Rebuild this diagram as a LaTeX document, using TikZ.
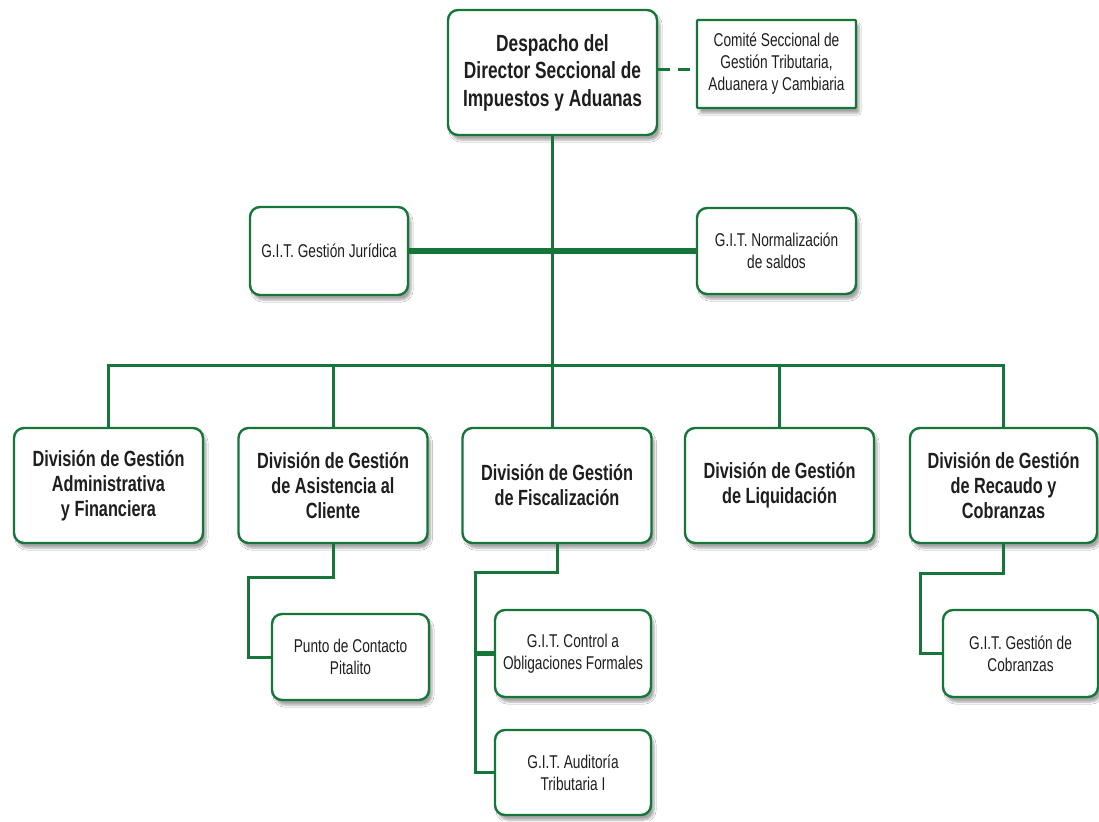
\documentclass[tikz,border=0pt]{standalone}
\usepackage{fontspec}
\setmainfont{Liberation Sans}[FakeStretch=0.74]
\usetikzlibrary{shadows.blur}
\definecolor{gr}{RGB}{22,118,58}
\definecolor{txt}{RGB}{30,30,30}
\tikzset{
  box/.style={draw=gr, line width=2.4pt, fill=white, rounded corners=10pt, align=center, text=txt,
    inner sep=2pt, blur shadow={shadow xshift=3pt, shadow yshift=-5pt, shadow blur steps=6, shadow opacity=35}},
  bigbox/.style={box, font=\fontsize{23.4}{27.5}\selectfont\bfseries},
  divbox/.style={box, minimum width=189pt, minimum height=115pt, font=\fontsize{22}{25}\selectfont\bfseries},
  smallbox/.style={box, font=\fontsize{18.5}{22}\selectfont},
  conn/.style={draw=gr, line width=3pt},
  thickconn/.style={draw=gr, line width=6.5pt},
}
\begin{document}
\begin{tikzpicture}[x=1pt, y=-1pt]
\useasboundingbox[fill=white] (0,0) rectangle (1099,821);
% top
\node[bigbox, minimum width=209pt, minimum height=125pt] (desp) at (552.5,72.5) {Despacho del\\Director Seccional de\\Impuestos y Aduanas};
\node[smallbox, rounded corners=1pt, minimum width=159pt, minimum height=88pt] (comite) at (776.5,64) {Comité Seccional de\\Gestión Tributaria,\\Aduanera y Cambiaria};
\node[smallbox, minimum width=158pt, minimum height=88pt] (jur) at (329,251) {G.I.T. Gestión Jurídica};
\node[smallbox, minimum width=159pt, minimum height=86pt] (norm) at (776.5,251) {G.I.T. Normalización\\de saldos};
% divisions
\node[divbox] (d1) at (108.5,485.5) {División de Gestión\\Administrativa\\y Financiera};
\node[divbox] (d2) at (333,485.5) {División de Gestión\\de Asistencia al\\Cliente};
\node[divbox] (d3) at (557,485.5) {División de Gestión\\de Fiscalización};
\node[divbox] (d4) at (779.5,485.5) {División de Gestión\\de Liquidación};
\node[divbox, minimum width=187pt] (d5) at (1003.5,485.5) {División de Gestión\\de Recaudo y\\Cobranzas};
% sub units
\node[smallbox, minimum width=157pt, minimum height=86pt] (punto) at (350.5,657) {Punto de Contacto\\Pitalito};
\node[smallbox, minimum width=156pt, minimum height=87pt] (ctrl) at (573,653.5) {G.I.T. Control a\\Obligaciones Formales};
\node[smallbox, minimum width=156pt, minimum height=85pt] (aud) at (573,772.5) {G.I.T. Auditoría\\Tributaria I};
\node[smallbox, minimum width=155pt, minimum height=87pt] (cob) at (1020.5,653.5) {G.I.T. Gestión de\\Cobranzas};
% helper coordinates
\coordinate (bus) at (552.5,365);
\coordinate (dy) at (0,70);
\coordinate (c2) at (248,577);
\coordinate (c3) at (475,572);
\coordinate (c5) at (920,573);
% connectors
\draw[conn, dash pattern=on 12pt off 8pt] (desp.east |- dy) -- (comite.west |- dy);
\draw[conn] (desp.south) -- (desp.south |- d3.north);
\draw[thickconn] (jur.east) -- (norm.west);
\draw[conn] (d1.north) -- (d1.north |- bus) -- (d5.north |- bus) -- (d5.north);
\draw[conn] (d2.north) -- (d2.north |- bus);
\draw[conn] (d4.north) -- (d4.north |- bus);
\draw[conn] (d2.south) |- (c2) |- (punto.west);
\draw[conn] (d3.south) |- (c3) |- (aud.west);
\draw[conn, line width=5pt] (c3 |- ctrl.west) -- (ctrl.west);
\draw[conn] (d5.south) |- (c5) |- (cob.west);
\end{tikzpicture}
\end{document}
